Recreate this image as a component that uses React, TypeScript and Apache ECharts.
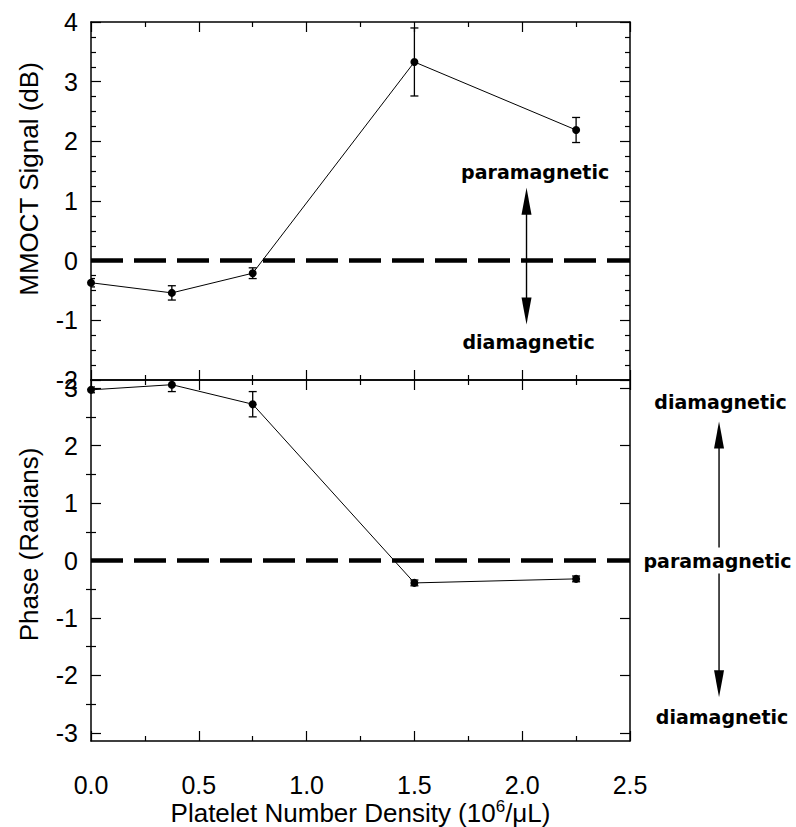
import React, { useEffect, useRef } from "react";
import * as echarts from "echarts";

// ---- data ----
const densities = [0, 0.375, 0.75, 1.5, 2.25];
const signalDb = [-0.37, -0.54, -0.21, 3.33, 2.19];
const signalErr = [0.07, 0.12, 0.09, 0.57, 0.21];
const phaseRad = [2.97, 3.06, 2.72, -0.39, -0.32];
const phaseErr = [0.05, 0.12, 0.22, 0.05, 0.05];

const phaseTicks = [-3, -2, -1, 0, 1, 2, 3];
const phaseMinorTicks = [-2.5, -1.5, -0.5, 0.5, 1.5, 2.5];

// annotation anchors (data coordinates)
const signalArrowX = 2.02;
const signalArrowEnds = [1.22, -1.07];
const signalNotes = [
  { text: "paramagnetic", x: 2.06, y: 1.49 },
  { text: "diamagnetic", x: 2.03, y: -1.36 },
];
const phaseArrowX = 2.913;
const phaseArrowEnds = [2.42, -2.38];
const phaseNotes = [
  { text: "diamagnetic", x: 2.92, y: 2.75 },
  { text: "paramagnetic", x: 2.906, y: 0 },
  { text: "diamagnetic", x: 2.927, y: -2.73 },
];

const BLACK = "#000";
const TICK_FONT = "Liberation Sans";

function xAxisDef(gridIndex: number, position: string, labels: boolean, extra: any = {}) {
  return {
    type: "value",
    gridIndex,
    position,
    min: 0,
    max: 2.5,
    interval: 0.5,
    splitLine: { show: false },
    axisLine: { show: true, onZero: false, lineStyle: { color: BLACK, width: 1.5 } },
    axisTick: { show: true, inside: true, length: 10, lineStyle: { color: BLACK, width: 1.2 } },
    minorTick: { show: true, splitNumber: 2, length: 5, lineStyle: { color: BLACK, width: 1.2 } },
    axisLabel: {
      show: labels,
      color: BLACK,
      fontSize: 25,
      fontFamily: TICK_FONT,
      margin: 31,
      formatter: (v: number) => v.toFixed(1),
    },
    ...extra,
  };
}

function errorBars(xs: number[], ys: number[], errs: number[], xi: number, yi: number) {
  return {
    type: "custom",
    xAxisIndex: xi,
    yAxisIndex: yi,
    clip: true,
    z: 3,
    data: xs.map((x, i) => [x, ys[i] - errs[i], ys[i] + errs[i]]),
    encode: { x: 0, y: [1, 2] },
    renderItem: (params: any, api: any) => {
      const x = api.value(0);
      const lo = api.coord([x, api.value(1)]);
      const hi = api.coord([x, api.value(2)]);
      const w = 4;
      const style = { stroke: BLACK, lineWidth: 1.3, fill: "none" };
      return {
        type: "group",
        children: [
          { type: "line", shape: { x1: lo[0], y1: lo[1], x2: hi[0], y2: hi[1] }, style },
          { type: "line", shape: { x1: lo[0] - w, y1: lo[1], x2: lo[0] + w, y2: lo[1] }, style },
          { type: "line", shape: { x1: hi[0] - w, y1: hi[1], x2: hi[0] + w, y2: hi[1] }, style },
        ],
      };
    },
  };
}

function lineSeries(xs: number[], ys: number[], xi: number, yi: number) {
  return {
    type: "line",
    xAxisIndex: xi,
    yAxisIndex: yi,
    data: xs.map((x, i) => [x, ys[i]]),
    symbol: "circle",
    symbolSize: 8,
    itemStyle: { color: BLACK },
    lineStyle: { color: BLACK, width: 1 },
    z: 4,
    markLine: {
      silent: true,
      symbol: "none",
      animation: false,
      label: { show: false },
      lineStyle: { color: BLACK, type: [32, 11], width: 4.5 },
      data: [{ yAxis: 0 }],
    },
  };
}

export default function App() {
  const ref = useRef<HTMLDivElement>(null);

  useEffect(() => {
    if (!ref.current) return;
    const chart = echarts.init(ref.current, undefined, { renderer: "svg" });

    const yBase = {
      type: "value",
      splitLine: { show: false },
      axisLine: { show: true, onZero: false, lineStyle: { color: BLACK, width: 1.5 } },
    };
    const majorTick = { show: true, inside: true, length: 10, lineStyle: { color: BLACK, width: 1.2 } };
    const minorTickStyle = { color: BLACK, width: 1.2 };
    const yLabel = { show: true, color: BLACK, fontSize: 25, fontFamily: TICK_FONT, margin: 13 };

    const option: any = {
      animation: false,
      backgroundColor: "#fff",
      grid: [
        { left: 91, top: 22, width: 539, height: 358 },
        { left: 91, top: 380, width: 539, height: 361 },
      ],
      xAxis: [
        xAxisDef(0, "bottom", false),
        xAxisDef(0, "top", false),
        xAxisDef(1, "bottom", true, {
          name: "{a|Platelet Number Density (10}{s|6}{a|/μL)}",
          nameLocation: "middle",
          nameGap: 57,
          nameTextStyle: {
            rich: {
              a: { fontSize: 26, fontFamily: TICK_FONT, color: BLACK, lineHeight: 30 },
              s: { fontSize: 17, fontFamily: TICK_FONT, color: BLACK, verticalAlign: "top", lineHeight: 18 },
            },
          },
        }),
        xAxisDef(1, "top", false),
      ],
      yAxis: [
        {
          ...yBase,
          gridIndex: 0,
          position: "left",
          min: -2,
          max: 4,
          interval: 1,
          axisTick: majorTick,
          minorTick: { show: true, splitNumber: 4, length: 5, lineStyle: minorTickStyle },
          axisLabel: yLabel,
        },
        {
          ...yBase,
          gridIndex: 0,
          position: "right",
          min: -2,
          max: 4,
          interval: 1,
          axisTick: majorTick,
          minorTick: { show: true, splitNumber: 4, length: 5, lineStyle: minorTickStyle },
          axisLabel: { show: false },
        },
        {
          ...yBase,
          gridIndex: 1,
          position: "left",
          min: -Math.PI,
          max: Math.PI,
          axisTick: { ...majorTick, customValues: phaseTicks },
          axisLabel: { ...yLabel, customValues: phaseTicks },
        },
        {
          ...yBase,
          gridIndex: 1,
          position: "right",
          min: -Math.PI,
          max: Math.PI,
          axisTick: { ...majorTick, customValues: phaseTicks },
          axisLabel: { show: false },
        },
        {
          ...yBase,
          gridIndex: 1,
          position: "left",
          min: -Math.PI,
          max: Math.PI,
          axisLine: { show: false },
          axisTick: { show: true, inside: true, length: 5, customValues: phaseMinorTicks, lineStyle: minorTickStyle },
          axisLabel: { show: false },
        },
        {
          ...yBase,
          gridIndex: 1,
          position: "right",
          min: -Math.PI,
          max: Math.PI,
          axisLine: { show: false },
          axisTick: { show: true, inside: true, length: 5, customValues: phaseMinorTicks, lineStyle: minorTickStyle },
          axisLabel: { show: false },
        },
      ],
      series: [
        lineSeries(densities, signalDb, 0, 0),
        errorBars(densities, signalDb, signalErr, 0, 0),
        lineSeries(densities, phaseRad, 2, 2),
        errorBars(densities, phaseRad, phaseErr, 2, 2),
      ],
    };
    chart.setOption(option);

    // ---- annotations placed through the axes' scales ----
    const topFinder = { xAxisIndex: 0, yAxisIndex: 0 };
    const botFinder = { xAxisIndex: 2, yAxisIndex: 2 };
    const px = (finder: any, x: number, y: number) => chart.convertToPixel(finder, [x, y]) as number[];
    const noteFont = 'bold 19px "DejaVu Sans"';
    const headLen = 27;
    const headHalf = 5;
    const graphics: any[] = [];

    const addHead = (x: number, tipY: number, dir: number) => {
      graphics.push({
        type: "polygon",
        z: 100,
        shape: {
          points: [
            [x, tipY],
            [x - headHalf, tipY + dir * headLen],
            [x + headHalf, tipY + dir * headLen],
          ],
        },
        style: { fill: BLACK },
      });
    };
    const addSeg = (x: number, y1: number, y2: number) => {
      graphics.push({
        type: "line",
        z: 100,
        shape: { x1: x, y1, x2: x, y2 },
        style: { stroke: BLACK, lineWidth: 1.4 },
      });
    };
    const addNote = (finder: any, n: { text: string; x: number; y: number }) => {
      const p = px(finder, n.x, n.y);
      graphics.push({
        type: "text",
        z: 101,
        x: p[0],
        y: p[1],
        style: {
          text: n.text,
          font: noteFont,
          fill: BLACK,
          align: "center",
          verticalAlign: "middle",
          textAlign: "center",
          textVerticalAlign: "middle",
        },
      });
    };

    // top panel arrow
    {
      const a = px(topFinder, signalArrowX, signalArrowEnds[0]);
      const b = px(topFinder, signalArrowX, signalArrowEnds[1]);
      addSeg(a[0], a[1] + headLen - 2, b[1] - headLen + 2);
      addHead(a[0], a[1], 1);
      addHead(b[0], b[1], -1);
      signalNotes.forEach((n) => addNote(topFinder, n));
    }
    // bottom (right side) arrow, broken around the middle label
    {
      const a = px(botFinder, phaseArrowX, phaseArrowEnds[0]);
      const b = px(botFinder, phaseArrowX, phaseArrowEnds[1]);
      const mid = px(botFinder, phaseArrowX, phaseNotes[1].y);
      addSeg(a[0], a[1] + headLen - 2, mid[1] - 13);
      addSeg(a[0], mid[1] + 13, b[1] - headLen + 2);
      addHead(a[0], a[1], 1);
      addHead(b[0], b[1], -1);
      phaseNotes.forEach((n) => addNote(botFinder, n));
    }

    // axis titles (rotated)
    const gTop = option.grid[0];
    const gBot = option.grid[1];
    const titleStyle = {
      font: '26px "Liberation Sans"',
      fill: BLACK,
      align: "center",
      verticalAlign: "middle",
      textAlign: "center",
      textVerticalAlign: "middle",
    };
    graphics.push({
      type: "text",
      x: 29,
      y: gTop.top + gTop.height / 2 - 22,
      rotation: Math.PI / 2,
      style: { ...titleStyle, text: "MMOCT Signal (dB)" },
    });
    graphics.push({
      type: "text",
      x: 29,
      y: gBot.top + gBot.height / 2 - 16,
      rotation: Math.PI / 2,
      style: { ...titleStyle, text: "Phase (Radians)" },
    });

    chart.setOption({ graphic: graphics });

    return () => chart.dispose();
  }, []);

  return (
    <div
      ref={ref}
      style={{ position: "absolute", left: 0, top: 0, width: 796, height: 827, background: "#fff" }}
    />
  );
}
